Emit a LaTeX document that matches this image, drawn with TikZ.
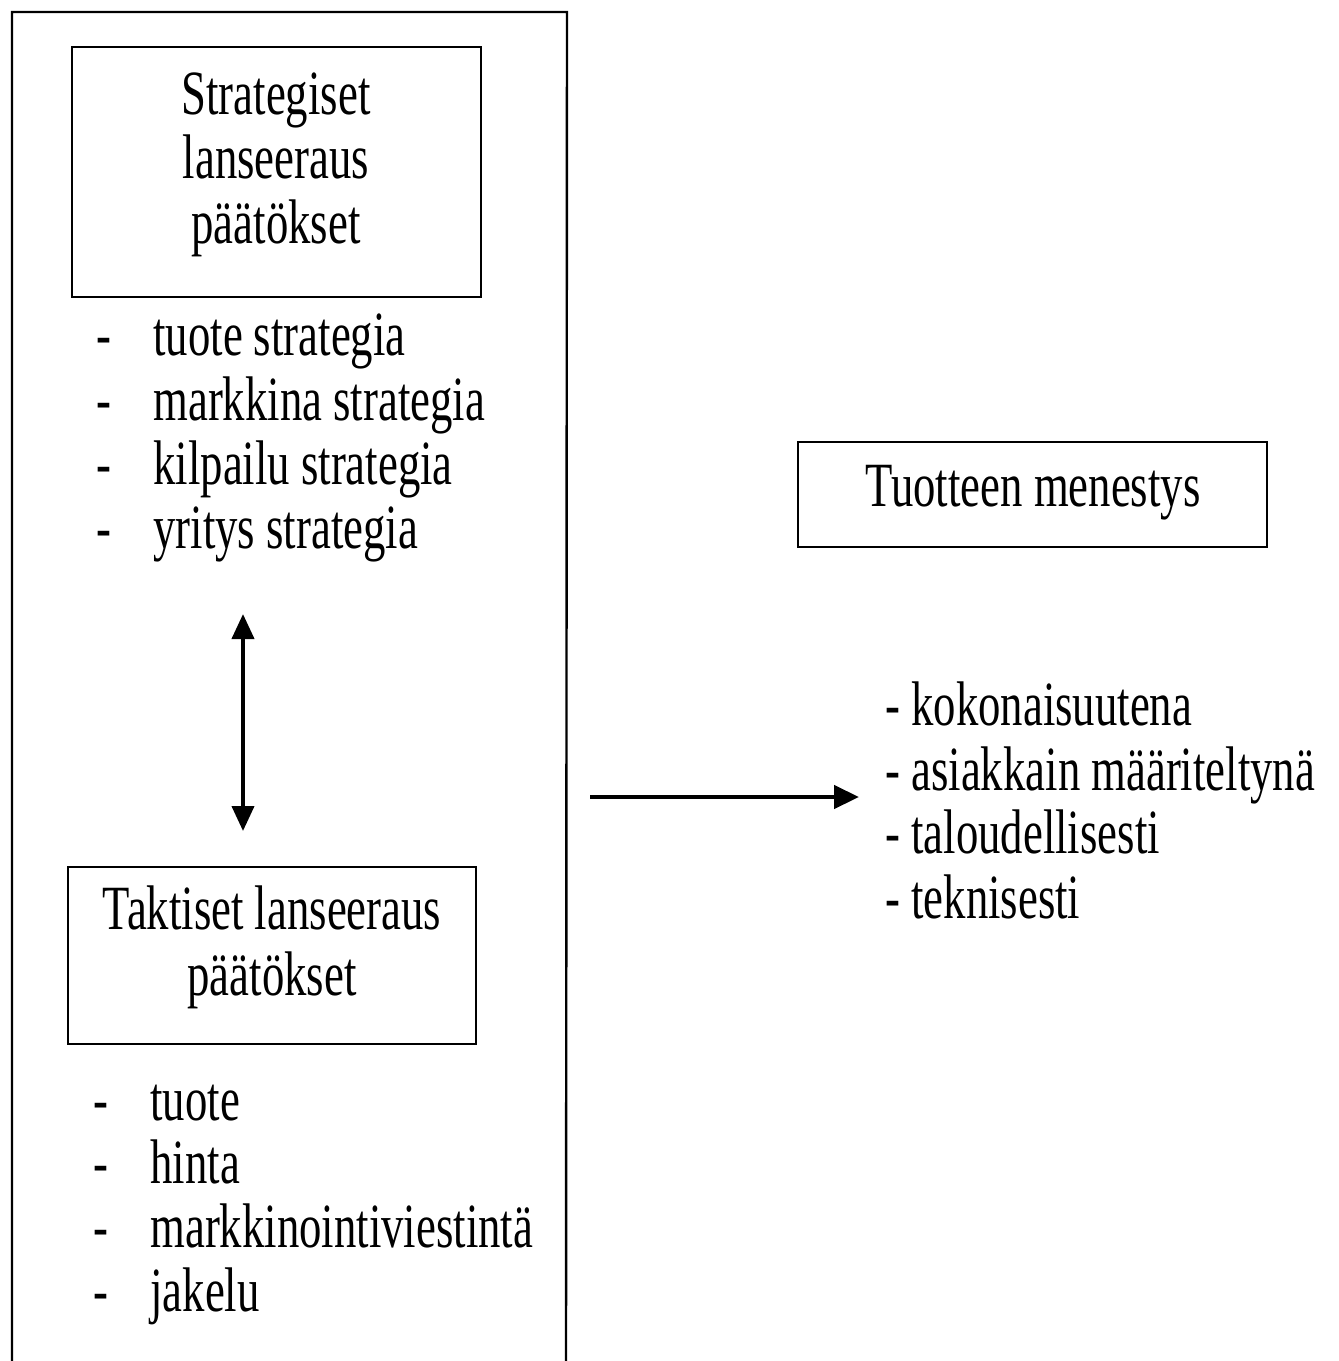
\documentclass[tikz,border=0pt]{standalone}
\usepackage{fontspec}
\setmainfont{Liberation Serif}[FakeStretch=0.71]
\usetikzlibrary{arrows.meta}
\tikzset{
  boxframe/.style={draw=black, line width=1.2pt, inner sep=0pt, fill=none},
  txt/.style={inner sep=0pt, font=\fontsize{31.5}{32.5}\selectfont},
  ctxt/.style={txt, anchor=base},
  ltxt/.style={txt, anchor=base west},
  bigarrow/.style={line width=2.2pt, -{Triangle[length=12.5pt,width=11.5pt]}},
  dblarrow/.style={line width=2pt, {Triangle[length=12.5pt,width=11pt]}-{Triangle[length=12.5pt,width=11pt]}}
}
\begin{document}
\begin{tikzpicture}[x=0.5pt,y=-0.5pt]
\useasboundingbox (0,0) rectangle (1339,1361);
% outer frame (bottom edge lies at the image border)
\draw[line width=1.2pt] (12,1366) -- (12,12) -- (567,12) -- (566,1366);

% strategic box
\node[boxframe, minimum width=204.5pt, minimum height=125pt] (sbox) at (276.5,172) {};
\node[ctxt] (s1) at (276,114) {Strategiset};
\node[ctxt] (s2) at (276,178) {lanseeraus};
\node[ctxt] (s3) at (276,243) {päätökset};

% strategic list
\node[ltxt] (sd1) at (96,355) {-};
\node[ltxt] (sl1) at (153,355) {tuote strategia};
\node[ltxt] (sd2) at (96,420) {-};
\node[ltxt] (sl2) at (153,420) {markkina strategia};
\node[ltxt] (sd3) at (96,484) {-};
\node[ltxt] (sl3) at (153,484) {kilpailu strategia};
\node[ltxt] (sd4) at (96,548) {-};
\node[ltxt] (sl4) at (153,548) {yritys strategia};

% double arrow
\coordinate (dTop) at (243,614);
\coordinate (dBot) at (243,831);
\draw[dblarrow] (dTop) -- (dBot);

% tactical box
\node[boxframe, minimum width=204pt, minimum height=88.5pt] (tbox) at (272,955.5) {};
\node[ctxt] (t1) at (272,929) {Taktiset lanseeraus};
\node[ctxt] (t2) at (272,995) {päätökset};

% tactical list
\node[ltxt] (td1) at (93,1120) {-};
\node[ltxt] (tl1) at (150,1120) {tuote};
\node[ltxt] (td2) at (93,1183) {-};
\node[ltxt] (tl2) at (150,1183) {hinta};
\node[ltxt] (td3) at (93,1247) {-};
\node[ltxt] (tl3) at (150,1247) {markkinointiviestintä};
\node[ltxt] (td4) at (93,1311) {-};
\node[ltxt] (tl4) at (150,1311) {jakelu};

% main arrow
\coordinate (aStart) at (590,797);
\coordinate (aEnd) at (859,797);
\draw[bigarrow] (aStart) -- (aEnd);

% success box
\node[boxframe, minimum width=234.5pt, minimum height=52.5pt] (mbox) at (1032.5,494.5) {};
\node[ctxt] (m1) at (1033,506) {Tuotteen menestys};

% success list
\node[ltxt] (r1) at (885,725) {- kokonaisuutena};
\node[ltxt] (r2) at (885,790) {- asiakkain määriteltynä};
\node[ltxt] (r3) at (885,853) {- taloudellisesti};
\node[ltxt] (r4) at (885,918) {- teknisesti};
\end{tikzpicture}
\end{document}
